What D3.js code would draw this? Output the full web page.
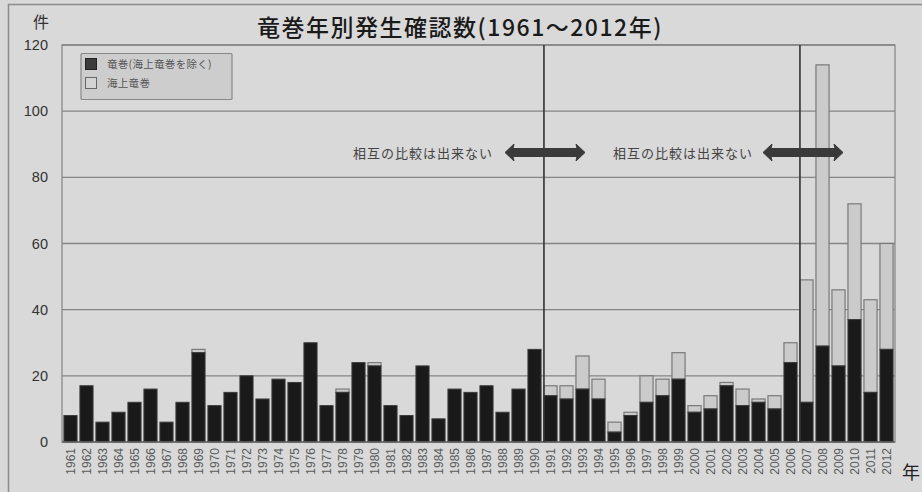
<!DOCTYPE html>
<html><head><meta charset="utf-8">
<script src="https://cdn.jsdelivr.net/npm/d3@7"></script>
<style>
html,body{margin:0;padding:0;background:#d9d9d9;}
svg{display:block;}
</style></head>
<body>
<svg id="c" width="922" height="492"></svg>
<script>
const years = d3.range(1961, 2013).map(String);
const tornado = [8,17,6,9,12,16,6,12,27,11,15,20,13,19,18,30,11,15,24,23,11,8,23,7,16,15,17,9,16,28,
                 14,13,16,13,3,8,12,14,19,9,10,17,11,12,10,24,12,29,23,37,15,28];
const waterspout = [0,0,0,0,0,0,0,0,1,0,0,0,0,0,0,0,0,1,0,1,0,0,0,0,0,0,0,0,0,0,
                    3,4,10,6,3,1,8,5,8,2,4,1,5,1,4,6,37,85,23,35,28,32];
const yTicks = [0,20,40,60,80,100,120];
const seriesNames = ["竜巻(海上竜巻を除く)", "海上竜巻"];
const titleText = "竜巻年別発生確認数(1961～2012年)";
const noteText = "相互の比較は出来ない";
const breakYears = ["1991","2007"];

const svg = d3.select("#c");
const jp = "'Noto Sans CJK JP','Noto Sans',sans-serif";
const num = "'Liberation Sans',Arial,sans-serif";

// outer frame (cropped at right/bottom)
svg.append("rect").attr("x",8.5).attr("y",4.5).attr("width",940).attr("height",520)
  .attr("fill","#d9d9d9").attr("stroke","#8c8c8c").attr("stroke-width",1.5);

const L=62, R=895, T=45, B=442;
const x = d3.scaleBand().domain(years).range([L,R]).paddingInner(0.18).paddingOuter(0.12);
const y = d3.scaleLinear().domain([0,120]).range([B,T]);

// plot area
svg.append("rect").attr("x",L).attr("y",T).attr("width",R-L).attr("height",B-T)
  .attr("fill","#d9d9d9").attr("stroke","#8a8a8a").attr("stroke-width",1.3);

// gridlines
svg.append("g").selectAll("line").data(yTicks.filter(d=>d>0)).join("line")
  .attr("x1",L).attr("x2",R).attr("y1",d=>y(d)).attr("y2",d=>y(d))
  .attr("stroke","#858585").attr("stroke-width",1.3);

// y axis labels
const yAxis = d3.axisLeft(y).tickValues(yTicks).tickSize(0).tickPadding(14);
const gy = svg.append("g").attr("transform",`translate(${L},0)`).call(yAxis);
gy.select(".domain").remove();
gy.selectAll("text").attr("font-family",num).attr("font-size",14.5).attr("fill","#333");

// bars
const stacked = years.map((yr,i)=>({yr, a:tornado[i], b:waterspout[i]}));
const gb = svg.append("g");
gb.selectAll("rect.sea").data(stacked.filter(d=>d.b>0)).join("rect").attr("class","sea")
  .attr("x",d=>x(d.yr)).attr("width",x.bandwidth())
  .attr("y",d=>y(d.a+d.b)).attr("height",d=>y(d.a)-y(d.a+d.b))
  .attr("fill","#cbcbcb").attr("stroke","#7a7a7a").attr("stroke-width",1.2);
gb.selectAll("rect.land").data(stacked).join("rect").attr("class","land")
  .attr("x",d=>x(d.yr)).attr("width",x.bandwidth())
  .attr("y",d=>y(d.a)).attr("height",d=>y(0)-y(d.a))
  .attr("fill","#1a1a1a").attr("stroke","#3a3a3a").attr("stroke-width",1);

// baseline
svg.append("line").attr("x1",L).attr("x2",R).attr("y1",B).attr("y2",B)
  .attr("stroke","#666").attr("stroke-width",1.3);

// x labels
const xAxis = d3.axisBottom(x).tickSize(0).tickPadding(0);
const gx = svg.append("g").attr("transform",`translate(0,${B})`).call(xAxis);
gx.select(".domain").remove();
gx.selectAll("text")
  .attr("font-family",num).attr("font-size",12).attr("fill","#5a5a5a")
  .attr("text-anchor","end").attr("dy","0.35em")
  .attr("transform","translate(0,6) rotate(-90)")
  .attr("x",0).attr("y",0);

// break lines
svg.append("g").selectAll("line").data(breakYears).join("line")
  .attr("x1",d=>x(d)).attr("x2",d=>x(d)).attr("y1",T).attr("y2",B)
  .attr("stroke","#333").attr("stroke-width",1.6);

// arrows
function dblArrow(x1,x2,cy){
  const sh=4, hh=8.5, hl=9;
  return `M${x1},${cy} L${x1+hl},${cy-hh} L${x1+hl-1},${cy-sh} L${x2-hl+1},${cy-sh} L${x2-hl},${cy-hh} L${x2},${cy} L${x2-hl},${cy+hh} L${x2-hl+1},${cy+sh} L${x1+hl-1},${cy+sh} L${x1+hl},${cy+hh} Z`;
}
const arrows = [[505,585],[763,843]];
svg.append("g").selectAll("path").data(arrows).join("path")
  .attr("d",d=>dblArrow(d[0],d[1],152.5)).attr("fill","#3a3a3a").attr("stroke","#3a3a3a")
  .attr("stroke-width",1).attr("stroke-linejoin","round");

svg.append("g").selectAll("text").data([493,753]).join("text")
  .attr("x",d=>d).attr("y",153).attr("dy","0.35em").attr("text-anchor","end")
  .attr("font-family",jp).attr("font-size",13).attr("letter-spacing",1)
  .attr("fill","#444").text(noteText);

// legend
const lg = svg.append("g");
lg.append("rect").attr("x",81).attr("y",53.5).attr("width",151).attr("height",46)
  .attr("fill","#cdcdcd").attr("stroke","#888").attr("stroke-width",1.2).attr("rx",1);
const lc = [["#3c3c3c","#222"],["#d4d4d4","#666"]];
seriesNames.forEach((n,i)=>{
  lg.append("rect").attr("x",85.5).attr("y",58.5+i*19).attr("width",11).attr("height",11)
    .attr("fill",lc[i][0]).attr("stroke",lc[i][1]).attr("stroke-width",1);
  lg.append("text").attr("x",107).attr("y",64+i*19.5).attr("dy","0.35em")
    .attr("font-family",jp).attr("font-size",10.5).attr("letter-spacing",0.3)
    .attr("fill","#555").text(n);
});

// title & unit labels
svg.append("text").attr("x",460).attr("y",28).attr("dy","0.35em").attr("text-anchor","middle")
  .attr("font-family",jp).attr("font-size",23).attr("font-weight",500).attr("letter-spacing",1.5)
  .attr("fill","#1a1a1a").text(titleText);
svg.append("text").attr("x",41).attr("y",22).attr("dy","0.35em").attr("text-anchor","middle")
  .attr("font-family",jp).attr("font-size",16).attr("fill","#333").text("件");
svg.append("text").attr("x",911).attr("y",473).attr("dy","0.35em").attr("text-anchor","middle")
  .attr("font-family",jp).attr("font-size",18).attr("fill","#222").text("年");
</script>
</body></html>
